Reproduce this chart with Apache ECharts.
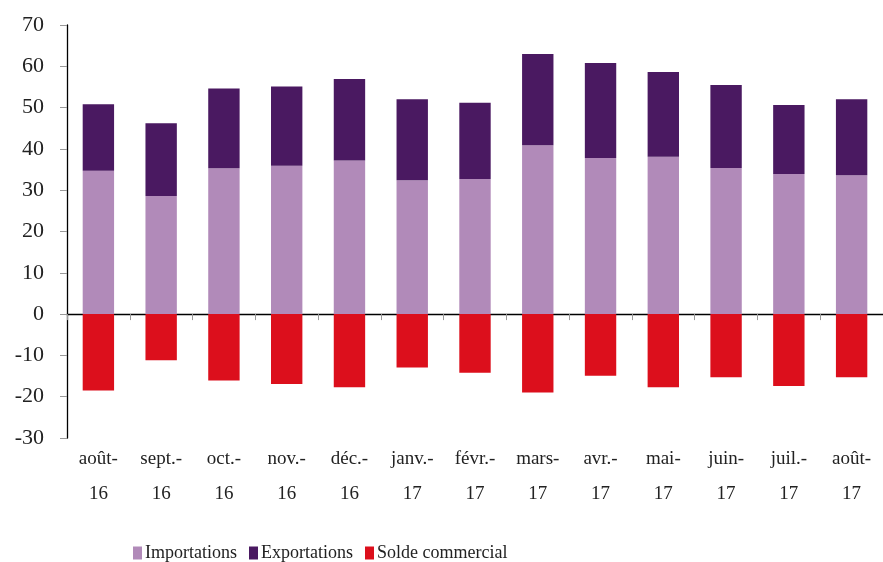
<!DOCTYPE html>
<html>
<head>
<meta charset="utf-8">
<script src="https://cdn.jsdelivr.net/npm/echarts@6/dist/echarts.min.js"></script>
<style>
  html, body { margin: 0; padding: 0; background: #fff; }
  #chart { width: 883px; height: 562px; }
</style>
</head>
<body>
<div id="chart"></div>
<script>
// mois (deux lignes : mois / année)
var categories = ["août-\n16", "sept.-\n16", "oct.-\n16", "nov.-\n16", "déc.-\n16", "janv.-\n17", "févr.-\n17",
  "mars-\n17", "avr.-\n17", "mai-\n17", "juin-\n17", "juil.-\n17", "août-\n17"];
var importations = [34.7, 28.6, 35.3, 35.9, 37.2, 32.4, 32.7, 40.9, 37.8, 38.1, 35.4, 33.9, 33.6];
var exportations = [16.1, 17.6, 19.3, 19.2, 19.7, 19.6, 18.5, 22.1, 23.0, 20.5, 20.1, 16.7, 18.4];
var solde = [-18.5, -11.2, -16.1, -16.9, -17.7, -12.9, -14.2, -19.0, -14.9, -17.7, -15.3, -17.4, -15.3];

var font = "'Liberation Serif', 'DejaVu Serif', serif";
var chart = echarts.init(document.getElementById("chart"));

var option = {
  animation: false,
  textStyle: { fontFamily: font },
  grid: { left: 67, right: 0, top: 25, bottom: 124 },
  legend: {
    left: 128,
    top: 539,
    itemWidth: 9,
    itemHeight: 13,
    itemGap: 12,
    icon: "rect",
    textStyle: { fontFamily: font, fontSize: 18, color: "#222", padding: [0, 0, 0, -2] },
    data: ["Importations", "Exportations", "Solde commercial"]
  },
  xAxis: [
    {
      // libellés en bas du graphique
      type: "category",
      data: categories,
      position: "bottom",
      axisLine: { show: false, onZero: false },
      axisTick: { show: false },
      axisLabel: { color: "#222", fontSize: 19, lineHeight: 35, margin: 4, interval: 0 }
    },
    {
      // ligne du zéro avec graduations
      type: "category",
      data: categories,
      position: "bottom",
      axisLine: { show: true, onZero: true, lineStyle: { color: "#000", width: 1.3 } },
      axisTick: { show: true, length: 6, lineStyle: { color: "#999" } },
      axisLabel: { show: false }
    }
  ],
  yAxis: {
    type: "value",
    min: -30,
    max: 70,
    interval: 10,
    axisLine: { show: true, lineStyle: { color: "#000", width: 1.3 } },
    axisTick: { show: true, length: 7, lineStyle: { color: "#999" } },
    splitLine: { show: false },
    axisLabel: { color: "#222", fontSize: 22, margin: 23 }
  },
  series: [
    {
      name: "Importations",
      type: "bar",
      stack: "total",
      barWidth: "50%",
      data: importations,
      itemStyle: { color: "#b18ab9" }
    },
    {
      name: "Exportations",
      type: "bar",
      stack: "total",
      data: exportations,
      itemStyle: { color: "#4a1961" }
    },
    {
      name: "Solde commercial",
      type: "bar",
      stack: "total",
      data: solde,
      itemStyle: { color: "#dc0f1c" }
    }
  ]
};
chart.setOption(option);
</script>
</body>
</html>
